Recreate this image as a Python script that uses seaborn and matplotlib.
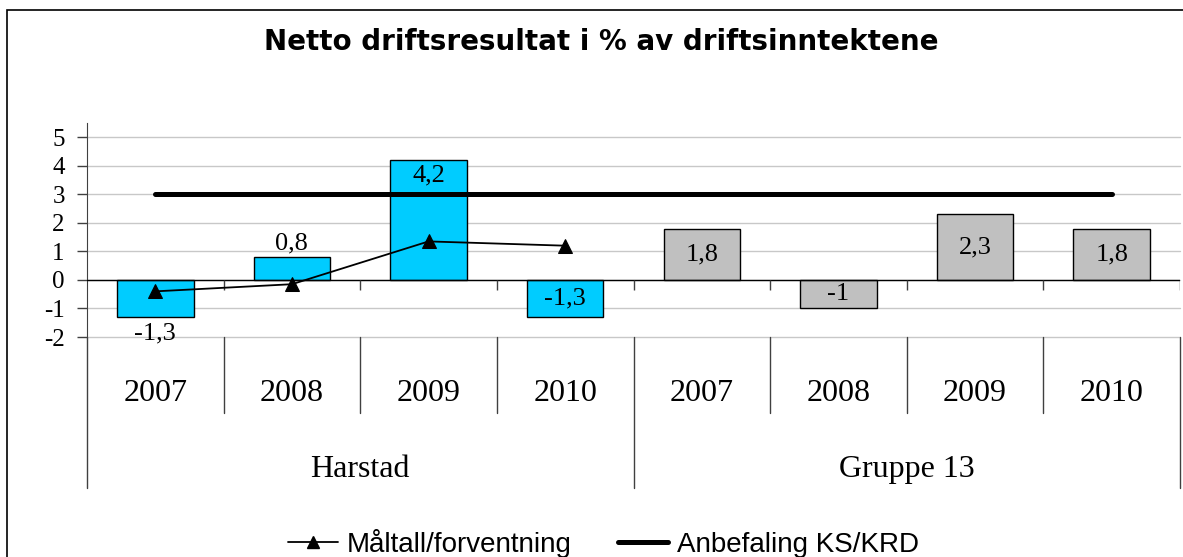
# Netto driftsresultat i % av driftsinntektene - Harstad vs Gruppe 13
import numpy as np
import pandas as pd
import matplotlib
matplotlib.use("Agg")
import matplotlib.pyplot as plt
from matplotlib.lines import Line2D
from matplotlib.patches import Rectangle
import matplotlib.transforms as mtransforms
import seaborn as sns

years = ["2007", "2008", "2009", "2010"]
groups = ["Harstad", "Gruppe 13"]
harstad = [-1.3, 0.8, 4.2, -1.3]
gruppe13 = [1.8, -1.0, 2.3, 1.8]
maltall = [-0.4, -0.15, 1.35, 1.2]      # only for Harstad
anbefaling = [3, 3, 3, 3, 3, 3, 3, 3]
value_labels = ["-1,3", "0,8", "4,2", "-1,3", "1,8", "-1", "2,3", "1,8"]

colors = {"Harstad": "#00CCFF", "Gruppe 13": "#C0C0C0"}

df = pd.DataFrame({
    "key": [g + " " + y for g in groups for y in years],
    "year": years * 2,
    "group": [g for g in groups for _ in years],
    "value": harstad + gruppe13,
})

sns.set_style("white")
plt.rcParams["text.color"] = "black"
plt.rcParams["ytick.color"] = "black"
plt.rcParams["xtick.color"] = "black"
serif = ["Liberation Serif", "DejaVu Serif"]
sans = ["Liberation Sans", "DejaVu Sans"]

fig = plt.figure(figsize=(11.83, 5.57), dpi=100)
ax = fig.add_axes([87 / 1183, 220 / 557, 1093 / 1183, 214 / 557])

# gridlines first so bars sit on top
for v in range(-2, 6):
    ax.axhline(v, color="#C8C8C8", lw=1, zorder=0, clip_on=False)

sns.barplot(data=df, x="key", y="value", hue="group", order=df["key"],
            palette=colors, saturation=1, dodge=False, width=0.56,
            edgecolor="black", linewidth=1, legend=False, ax=ax, zorder=2)

ax.set_xlim(-0.5, 7.5)
ax.set_ylim(-2, 5.5)
ax.set_xticks([])
ax.set_xlabel("")
ax.set_ylabel("")
ax.set_yticks(range(-2, 6))
ax.set_yticklabels([str(v) for v in range(-2, 6)], family=serif, fontsize=18,
                   color="black")
ax.tick_params(axis="y", direction="out", length=7, width=1, color="#404040",
               pad=9, left=True)
for s in ["top", "right", "bottom"]:
    ax.spines[s].set_visible(False)
ax.spines["left"].set_color("#404040")

# zero axis with category tick marks
ax.axhline(0, color="black", lw=1, zorder=3)
ax.vlines(np.arange(0.5, 8, 1), -0.35, 0, color="#404040", lw=1, zorder=3)

# lines
sns.lineplot(x=np.arange(len(maltall)), y=maltall, color="black", lw=1.3,
             marker="^", markersize=10, markeredgecolor="black", ax=ax, zorder=5)
sns.lineplot(x=np.arange(len(anbefaling)), y=anbefaling, color="black", lw=3.6,
             ax=ax, zorder=4)

# value labels
vals = harstad + gruppe13
lab_fs = 19
for i, v in enumerate(vals):
    if i == 0:
        ax.annotate(value_labels[i], (i, v), xytext=(0, -4), textcoords="offset points",
                    ha="center", va="top", family=serif, fontsize=lab_fs, zorder=6)
    elif i == 1:
        ax.annotate(value_labels[i], (i, v), xytext=(0, 2), textcoords="offset points",
                    ha="center", va="bottom", family=serif, fontsize=lab_fs, zorder=6)
    elif i == 2:
        ax.annotate(value_labels[i], (i, v), xytext=(0, -3), textcoords="offset points",
                    ha="center", va="top", family=serif, fontsize=lab_fs, zorder=6)
    else:
        ax.text(i, v / 2, value_labels[i], ha="center", va="center",
                family=serif, fontsize=lab_fs, zorder=6)

# two-level category axis below the plot
trans = mtransforms.blended_transform_factory(ax.transData, ax.transAxes)
for i, y in enumerate(df["year"]):
    ax.text(i, -0.262, y, transform=trans, ha="center", va="center",
            family=serif, fontsize=23, clip_on=False)
for b in [0.5, 1.5, 2.5, 4.5, 5.5, 6.5]:
    ax.plot([b, b], [0, -0.355], transform=trans, color="#404040", lw=1, clip_on=False)
for b in [-0.5, 3.5, 7.5]:
    ax.plot([b, b], [0, -0.706], transform=trans, color="#404040", lw=1, clip_on=False)
for k, g in enumerate(groups):
    ax.text(1.5 + 4 * k, -0.62, g, transform=trans, ha="center", va="center",
            family=serif, fontsize=23, clip_on=False)

# title
fig.text(0.508, 1 - 42 / 557, "Netto driftsresultat i % av driftsinntektene",
         ha="center", va="center", family=["DejaVu Sans"], fontsize=20,
         fontweight="bold", color="black")

# legend
handles = [
    Line2D([], [], color="black", lw=1.3, marker="^", markersize=8),
    Line2D([], [], color="black", lw=3.6),
]
fig.legend(handles, ["Måltall/forventning", "Anbefaling KS/KRD"], loc="center",
           bbox_to_anchor=(0.51, 1 - 543 / 557), ncol=2, frameon=False,
           prop={"family": sans, "size": 20}, handlelength=1.8, handletextpad=0.3,
           columnspacing=1.7, labelcolor="black")

# outer chart border (cut off at the right and bottom)
fig.patches.append(Rectangle((7 / 1183, -0.1), 1.2, 1 - 10 / 557 + 0.1,
                             transform=fig.transFigure, fill=False,
                             edgecolor="black", lw=1.2))

fig.savefig("out.png", dpi=100)
